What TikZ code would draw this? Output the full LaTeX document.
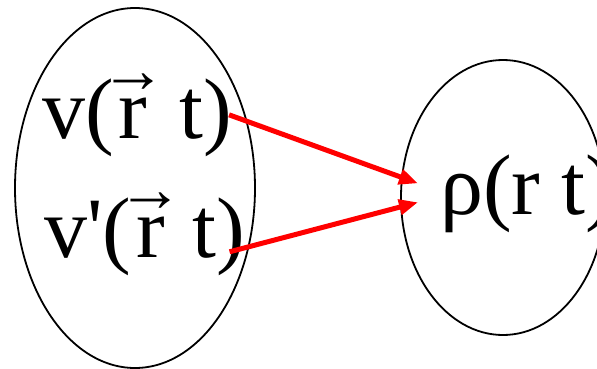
\documentclass[tikz,border=0pt]{standalone}
\usepackage{fontspec}
\newfontfamily\labfont{Liberation Serif}
\usetikzlibrary{positioning,arrows.meta,shapes.geometric}
% r with an arrow over it
\newcommand{\vecr}[1]{\makebox[#1][l]{\kern5pt\rlap{\makebox[29pt]{\raisebox{46pt}{\fontsize{66}{66}\selectfont →}}}r}}

\begin{document}
\begin{tikzpicture}[x=1pt,y=-1pt,
  oval/.style={draw,ellipse,line width=1.8pt,inner sep=0pt},
  lab/.style={font=\labfont\fontsize{86}{90}\selectfont,inner sep=0pt,anchor=base west},
  arr/.style={-{Triangle[length=19pt,width=15pt]},red,line width=5pt}]
\useasboundingbox (0,0) rectangle (597,369);
\node[oval,minimum width=240,minimum height=360] (left) at (135,188) {};
\node[oval,minimum width=204,minimum height=275] (right) at (503,197.5) {};
\node[lab] (v) at (42,138) {v(\vecr{44pt} t)};
\node[lab] (vp) at (44,257) {v'(\vecr{40pt} t)};
\node[lab] (rho) at (440,214) {ρ(r t)};
\draw[arr] ([xshift=-3pt]v.east) -- ([xshift=-22pt,yshift=10pt]rho.west);
\draw[arr] ([xshift=-16pt,yshift=-18pt]vp.east) -- ([xshift=-22pt,yshift=-9pt]rho.west);
\end{tikzpicture}
\end{document}
